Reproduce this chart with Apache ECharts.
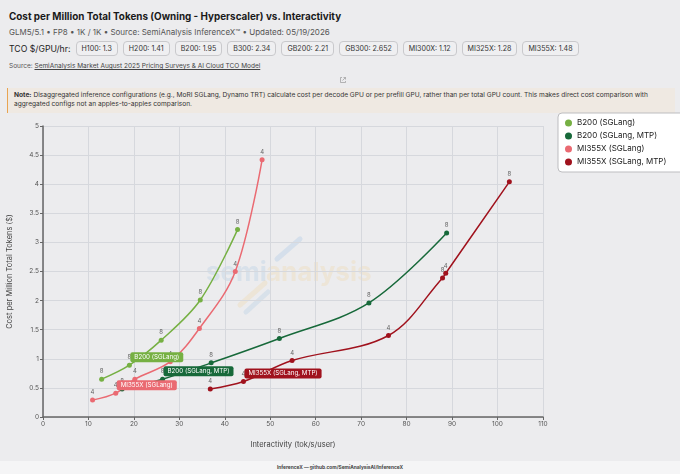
<!DOCTYPE html>
<html><head><meta charset="utf-8">
<script src="https://cdn.jsdelivr.net/npm/echarts@6/dist/echarts.min.js"></script>
<style>
html,body{margin:0;padding:0;width:680px;height:474px;overflow:hidden;background:#ececee;font-family:Inter,"Noto Sans",sans-serif;color:#1a1a1a;}
#hdr{position:absolute;left:0;top:0;width:680px;}
.title{position:absolute;left:9px;top:10px;font-size:9.9px;font-weight:700;white-space:nowrap;}
.sub{position:absolute;left:9px;top:27px;font-size:8px;color:#555;white-space:nowrap;}
.tco{position:absolute;left:9px;top:41px;font-size:8.7px;color:#222;white-space:nowrap;display:flex;align-items:center;}
.pill{display:inline-block;border:1px solid #c9c9cc;border-radius:4px;background:#efeff1;font-size:7.1px;padding:2px 5px;margin-left:5px;color:#333;}
.src{position:absolute;left:9px;top:62px;font-size:6.5px;color:#555;white-space:nowrap;}
.src u{color:#444;}
.note{position:absolute;left:7px;top:88px;width:668px;height:25px;background:#efe9e2;border-left:1.5px solid #e8a452;font-size:6.6px;color:#333;line-height:9px;padding:3px 8px 0 6px;box-sizing:border-box;}
.foot{position:absolute;left:0;top:461px;width:680px;height:13px;background:#f5f5f6;font-size:4.8px;font-weight:700;color:#444;text-align:center;line-height:13px;}
#chart{position:absolute;left:0;top:100px;width:680px;height:361px;}
</style></head>
<body>
<div id="hdr">
<div class="title">Cost per Million Total Tokens (Owning - Hyperscaler) vs. Interactivity</div>
<div class="sub">GLM5/5.1 • FP8 • 1K / 1K • Source: SemiAnalysis InferenceX™ • Updated: 05/19/2026</div>
<div class="tco" id="tco">TCO $/GPU/hr:</div>
<div class="src">Source: <u>SemiAnalysis Market August 2025 Pricing Surveys &amp; AI Cloud TCO Model</u></div>
<svg style="position:absolute;left:339px;top:76px" width="8" height="8" viewBox="0 0 8 8"><path d="M3 1.5H1.5v5h5V5M4.5 1.5h2v2M6.5 1.5L3.5 4.5" fill="none" stroke="#999" stroke-width="0.7"/></svg>
</div>
<div class="note"><b>Note:</b> Disaggregated inference configurations (e.g., MoRI SGLang, Dynamo TRT) calculate cost per decode GPU or per prefill GPU, rather than per total GPU count. This makes direct cost comparison with aggregated configs not an apples-to-apples comparison.</div>
<div id="chart"></div>
<div class="foot">InferenceX — github.com/SemiAnalysisAI/InferenceX</div>
<script>
const tcoNames = ["H100","H200","B200","B300","GB200","GB300","MI300X","MI325X","MI355X"];
const tcoValues = ["1.3","1.41","1.95","2.34","2.21","2.652","1.12","1.28","1.48"];

const seriesNames = ["B200 (SGLang)","B200 (SGLang, MTP)","MI355X (SGLang)","MI355X (SGLang, MTP)"];
const seriesColors = ["#76b043","#17693a","#ea6a72","#a0121d"];

const b200X = [12.9, 19.0, 26.0, 34.6, 42.8];
const b200Y = [0.65, 0.89, 1.32, 2.01, 3.22];
const b200Tp = [8, 8, 8, 8, 8];

const b200MtpX = [17.4, 26.3, 37.0, 52.0, 71.7, 88.8];
const b200MtpY = [0.48, 0.65, 0.93, 1.35, 1.96, 3.16];
const b200MtpTp = [8, 8, 8, 8, 8, 8];

const mi355X = [10.9, 16.0, 20.2, 28.0, 34.4, 42.3, 48.2];
const mi355Y = [0.29, 0.41, 0.65, 0.95, 1.52, 2.50, 4.42];
const mi355Tp = [4, 4, 4, 4, 4, 4, 4];

const mi355MtpX = [36.8, 44.1, 54.8, 76.0, 87.9, 88.6, 102.6];
const mi355MtpY = [0.48, 0.61, 0.97, 1.40, 2.39, 2.47, 4.04];
const mi355MtpTp = [4, 4, 4, 4, 8, 4, 8];

const xTicks = [0,10,20,30,40,50,60,70,80,90,100,110];
const yTicks = [0,0.5,1,1.5,2,2.5,3,3.5,4,4.5,5];

const tcoEl = document.getElementById('tco');
tcoNames.forEach((n,i)=>{const s=document.createElement('span');s.className='pill';s.textContent=n+': '+tcoValues[i];tcoEl.appendChild(s);});

const chart = echarts.init(document.getElementById('chart'));
const xs = [b200X, b200MtpX, mi355X, mi355MtpX];
const ys = [b200Y, b200MtpY, mi355Y, mi355MtpY];
const tps = [b200Tp, b200MtpTp, mi355Tp, mi355MtpTp];

const series = seriesNames.map((name, k) => ({
  name, type: 'line', smooth: 0.35, symbol: 'circle', symbolSize: 5,
  color: seriesColors[k],
  lineStyle: {width: 1.5, color: seriesColors[k]},
  itemStyle: {color: seriesColors[k]},
  data: xs[k].map((x, i) => ({value: [x, ys[k][i]], tp: tps[k][i]})),
  label: {show: true, position: 'top', distance: 2, fontSize: 6, color: '#666', fontFamily: 'Inter',
    formatter: p => String(p.data.tp)},
  emphasis: {disabled: true},
  markPoint: {
    symbol: 'circle', symbolSize: 0, silent: true, animation: false,
    data: [{coord: [xs[k][1], ys[k][1]]}],
    label: {show: true, position: 'right', distance: 1, offset: [0, -8], formatter: name,
      backgroundColor: seriesColors[k], color: '#fff', fontSize: 6.2, fontFamily: 'Inter',
      padding: [2, 4], borderRadius: 2}
  }
}));

chart.setOption({
  backgroundColor: 'transparent',
  animation: false,
  textStyle: {fontFamily: 'Inter'},
  grid: {left: 43, right: 137, top: 26, bottom: 44, outerBoundsMode: 'none', containLabel: false},
  legend: {
    orient: 'vertical', left: 558, top: 13, icon: 'circle', itemWidth: 7, itemHeight: 7, itemGap: 5,
    padding: [6, 22, 6, 7], backgroundColor: '#ffffff', borderColor: '#bdbdc0', borderWidth: 1, borderRadius: 4,
    textStyle: {fontSize: 8, color: '#222', fontFamily: 'Inter'},
    data: seriesNames
  },
  xAxis: {
    type: 'value', min: xTicks[0], max: xTicks[xTicks.length-1], interval: 10,
    name: 'Interactivity (tok/s/user)', nameLocation: 'middle', nameGap: 24,
    nameTextStyle: {fontSize: 7.5, color: '#444'},
    axisLine: {show: true, lineStyle: {color: '#666', width: 1.5}},
    axisTick: {show: true, length: 3, lineStyle: {color: '#666'}},
    axisLabel: {fontSize: 6.5, color: '#555', margin: 4},
    splitLine: {show: true, lineStyle: {color: '#d6d8dd', width: 1}}
  },
  yAxis: {
    type: 'value', min: yTicks[0], max: yTicks[yTicks.length-1], interval: 0.5,
    name: 'Cost per Million Total Tokens ($)', nameLocation: 'middle', nameGap: 29,
    nameTextStyle: {fontSize: 7.5, color: '#444'},
    axisLine: {show: true, lineStyle: {color: '#666', width: 1.5}},
    axisTick: {show: true, length: 3, lineStyle: {color: '#666'}},
    axisLabel: {fontSize: 6.5, color: '#555', margin: 4},
    splitLine: {show: true, lineStyle: {color: '#d6d8dd', width: 1}}
  },
  graphic: [
    {type: 'text', x: 206, y: 160, z: 0, silent: true,
     style: {text: 'semi', fontSize: 26, fontWeight: 'bold', fill: 'rgba(110,165,220,0.16)', fontFamily: 'Inter', align: 'left', verticalAlign: 'top'}},
    {type: 'text', x: 266, y: 160, z: 0, silent: true,
     style: {text: 'analysis', fontSize: 26, fontWeight: 'bold', fill: 'rgba(240,190,100,0.16)', fontFamily: 'Inter', align: 'left', verticalAlign: 'top'}},
    {type: 'line', silent: true, z: 0, shape: {x1: 277, y1: 159, x2: 300, y2: 139}, style: {stroke: 'rgba(110,165,220,0.18)', lineWidth: 5, lineCap: 'round'}},
    {type: 'line', silent: true, z: 0, shape: {x1: 240, y1: 205, x2: 265, y2: 183}, style: {stroke: 'rgba(240,190,100,0.16)', lineWidth: 5, lineCap: 'round'}},
    {type: 'line', silent: true, z: 0, shape: {x1: 246, y1: 212, x2: 268, y2: 192}, style: {stroke: 'rgba(110,165,220,0.16)', lineWidth: 5, lineCap: 'round'}}
  ],
  series
});
</script>
</body></html>
